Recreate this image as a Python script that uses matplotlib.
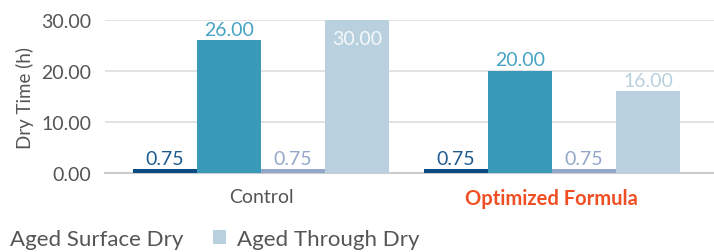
import matplotlib
matplotlib.use("Agg")
import matplotlib.pyplot as plt
import numpy as np

categories = ["Control", "Optimized Formula"]
series_names = ["Surface Dry", "Through Dry", "Aged Surface Dry", "Aged Through Dry"]
values = [
    [0.75, 0.75],
    [26.00, 20.00],
    [0.75, 0.75],
    [30.00, 16.00],
]
y_ticks = [0, 10, 20, 30]

bar_colors = ["#0a4b82", "#3899b8", "#93a7c9", "#b9d1de"]
label_colors = ["#1d5b91", "#45a3c3", "#93a7c9", "#b9d1de"]
gray = '#555555'

plt.rcParams['font.family'] = ['Lato', 'DejaVu Sans']

fig = plt.figure(figsize=(7.14, 2.53), dpi=100)
ax = fig.add_axes([105/714, 1-174/253, 1-105/714, (174-21)/253])

x = np.arange(len(categories))
w = 0.22
handles = []
for i, (name, vals) in enumerate(zip(series_names, values)):
    pos = x + (i - 1.5) * w
    b = ax.bar(pos, vals, width=w, color=bar_colors[i], label=name, zorder=3)
    handles.append(b)
    for px, v in zip(pos, vals):
        if v >= 29.5:
            ax.text(px, v - 1.9, f"{v:.2f}", ha='center', va='top', fontsize=14,
                    color='#f4f8fa', zorder=4)
        else:
            ax.text(px, v + 0.5, f"{v:.2f}", ha='center', va='bottom', fontsize=14,
                    color=label_colors[i], zorder=4)

ax.set_xlim(-0.536, 1.557)
ax.set_ylim(0, 30)
ax.set_yticks(y_ticks)
ax.set_yticklabels([f"{t:.2f}" for t in y_ticks], fontsize=14, color=gray)
ax.yaxis.grid(True, color='#dddddd', linewidth=1.2, zorder=0)
ax.tick_params(axis='y', length=0, pad=10)
ax.set_xticks(x)
ax.set_xticklabels(categories, fontsize=14)
ax.tick_params(axis='x', length=0, pad=10.5)
xl = ax.get_xticklabels()
xl[0].set_color(gray)
xl[1].set_color('#f04e23')
xl[1].set_fontweight('bold')
xl[1].set_fontsize(14.5)
for s in ['top', 'right', 'left']:
    ax.spines[s].set_visible(False)
ax.spines['bottom'].set_color('#cccccc')
ax.spines['bottom'].set_linewidth(1.5)
ax.set_ylabel("Dry Time (h)", fontsize=13.5, color=gray, labelpad=5)

# Legend: the entry before the last is cut at the left edge (marker not visible)
fig.text(10/714, 1-240/253, series_names[2], ha='left', va='center',
         fontsize=16, color=gray)
leg = fig.legend(handles=handles[3:], labels=series_names[3:], loc='center left',
                 bbox_to_anchor=(213/714, 1-240/253), ncol=1, frameon=False,
                 fontsize=16, handlelength=0.59, handleheight=0.59,
                 borderpad=0, borderaxespad=0, handletextpad=0.5, labelcolor=gray)

fig.savefig("out.png", dpi=100)
